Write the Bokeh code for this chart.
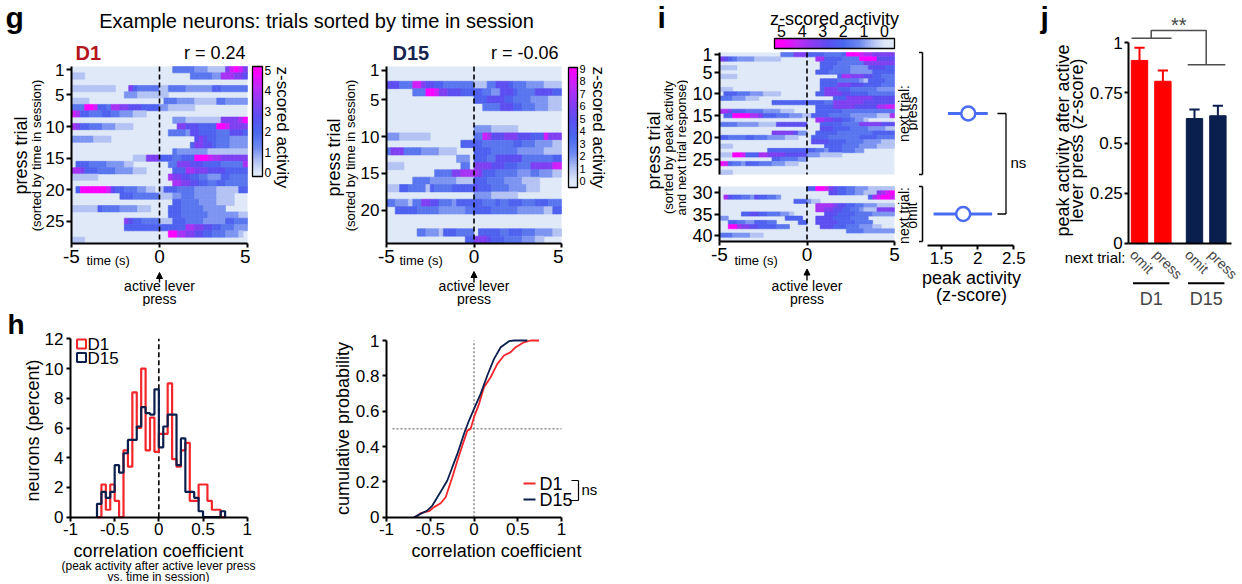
import numpy as np
from bokeh.plotting import figure
from bokeh.layouts import row, column
from bokeh.models import (Range1d, FixedTicker, NumeralTickFormatter, Label, Arrow,
                          NormalHead, ColumnDataSource, LinearColorMapper, LinearAxis)
from bokeh.transform import transform
from bokeh.embed import file_html
from bokeh.resources import INLINE

FONT = "Liberation Sans"

# =========================== DATA ===========================
TIME_START = -5.0
TIME_BIN = 0.25          # heat-map column width (s); 40 columns from -5 to 5 s
N_BINS = 40
# each character = z-scored activity level in ninths of the colour-scale maximum
D1_VMAX = 5
D1_R = "r = 0.24"
D1_ROWS = [
    "00000000000000000000|00033333222111168986",
    "11100000000000000000|00000003333322777665",
    "00000000000000000000|00000000000000000000",
    "11111111110006433333|11333322222244333333",
    "00000000000022211111|11000000000000000000",
    "11110000000000000000|03332222111113322222",
    "33399844377665554444|22111111000000000000",
    "87443334433222111000|00000000000000000000",
    "00000000000000000000|00022211111111666679",
    "76443332221111000000|00006655544449986666",
    "00000000000000000000|00333325544443335554",
    "22222111100000000000|00000000565443332222",
    "00000000000000000000|00000004665543332222",
    "00000000000000000000|00032222222111111111",
    "00000000000000111666|44433444999877666666",
    "04443333222211000000|00336665554444333337",
    "77644433332222111000|00044477666555544444",
    "11111100000000000000|00766554433222443333",
    "00000000000000000000|00077665544334433333",
    "04999999854433322110|14443333222221111144",
    "00000000000444333333|11122333222221111000",
    "00000000000000000000|00044333322221111000",
    "11111143333222211100|00444333332222200000",
    "00000000000000000000|00444333333222222211",
    "00000000000065443333|11144433332222244333",
    "00000000000044444444|44444477665544333222",
    "00000000000000000000|00997766554433322210",
    "11100000000000000000|00000000000000000000",
]
D15_VMAX = 9
D15_R = "r = -0.06"
D15_ROWS = [
    "00000000000000000000|00000000000000000000",
    "00000000000000000000|00000000000000000000",
    "55533388655443333333|11133555433322221111",
    "00000033399866555444|44332255543333555544",
    "00000000000000000000|44455554433332222111",
    "00000000000000000000|00333355544333222111",
    "00000000000000000000|00000000000000000000",
    "00000000000000000000|00000000000000000000",
    "00000000000000000000|22221111110000000000",
    "22211111110000000000|33875556665554448666",
    "00000000000000000444|44333333344333222211",
    "36663333222211110000|44443333332222221111",
    "00000000000000002220|44433555555333333344",
    "11110000000000000330|66665554443336666688",
    "00000000000333366777|76444333332223322211",
    "00000033332222221111|44433332222111100000",
    "11144333314333344444|54443333222211100000",
    "00000000000000000000|22221111110000000000",
    "33222133665533324444|44333433444333444333",
    "00444443333322222233|44443333332222221144",
    "00000000000000000000|00000000000000000000",
    "00000000000000000000|00000000000000000000",
    "00000003322214443333|04444433444333222211",
    "00000000000000000044|66654443333222110000",
]
I_VMAX = 5
I_ROWS_PRESS = [
    "00000000000000333666|44443333499987766666",
    "65432222111111000000|00774444333399995555",
    "00000000000000000000|00044443333336666666",
    "11110000000000000000|00044433332222555544",
    "00000000000000000000|00444333332222244444",
    "11110000000000000000|00000004776665544333",
    "00000000000000000000|00044443333321444433",
    "00000000000000000000|00044446665554444333",
    "11100000000000000000|00046664443333332222",
    "04443332221111000000|00446666554444333333",
    "33322211100000000000|00000044466666655555",
    "00000000000044444444|44443366666665555555",
    "00000000000000000000|00444466666555557788",
    "77644433332222111000|00444444333333333333",
    "04499997764443332221|14444333332222221117",
    "00000000000000000000|00776655443221000000",
    "33332222211115555555|00044444333366666555",
    "00000000000000000000|00055544443333222211",
    "00000000000066666522|00444443333333344444",
    "44333344333222211100|04444333333344443333",
    "00000000000000000000|05555444433332222111",
    "11100000000000000000|00004444333322221111",
    "00000000000444444444|44332444333220000000",
    "11199844477666655555|22211111000000000000",
    "00000000000044333322|00000000000000000000",
    "98433244433322211100|00000000000000000000",
    "00000000000000000000|00000000000000000000",
    "11100000000000000000|00000000000000000000",
]
I_ROWS_OMIT = [
    "00000000000000000000|44998654433222111111",
    "00000000000000000000|00000554433221116789",
    "07544332544332000000|00000000000000478998",
    "00000000000000000444|21100000000000000000",
    "00000000000000000000|00777765544332221111",
    "00000000000000000000|00776655443321116666",
    "00000445544333221000|00005554444333322222",
    "22000000000000044440|00555544443333000000",
    "00443322444330000044|00555554444333300000",
    "00997665544443330000|00055544433322211000",
    "00000000000000000000|00000000033332222222",
    "33322221110000000000|00000000000000000000",
    "00000000000000000000|00000000000000000000",
]

PEAK_GROUPS = ["press", "omit"]
PEAK_MEAN = [1.87, 1.80]
PEAK_LO = [1.59, 1.39]
PEAK_HI = [2.14, 2.20]

J_GROUP = ["D1", "D1", "D15", "D15"]
J_NEXT = ["omit", "press", "omit", "press"]
J_X = [1.0, 2.0, 3.35, 4.35]
J_MEAN = [0.912, 0.808, 0.622, 0.636]
J_SEM = [0.063, 0.054, 0.045, 0.050]

HIST_BIN_W = 0.05
HIST_BIN_LEFT = [-0.70, -0.65, -0.60, -0.55, -0.50, -0.45, -0.40, -0.35, -0.30, -0.25,
                 -0.20, -0.15, -0.10, -0.05, 0.00, 0.05, 0.10, 0.15, 0.20, 0.25,
                 0.30, 0.35, 0.40, 0.45, 0.50, 0.55, 0.60, 0.65, 0.70]
HIST_D1 = [0, 2.2, 0.5, 2.2, 1.1, 0, 4.5, 3.4, 8.4, 6.0,
           10.0, 4.5, 6.7, 4.4, 5.6, 5.6, 9.0, 3.9, 3.4, 4.5,
           5.0, 1.1, 1.1, 2.2, 2.2, 1.1, 0.5, 0.5, 0]
HIST_D15 = [0.9, 1.7, 1.3, 1.7, 3.5, 3.0, 4.3, 5.2, 5.2, 6.1,
            7.4, 7.0, 6.9, 8.6, 4.7, 6.1, 6.9, 6.9, 3.5, 5.3,
            1.7, 1.7, 1.3, 0.4, 0, 0, 0, 0, 0.4]

CUM_D1_X = [-0.667, -0.61, -0.514, -0.457, -0.381, -0.324, -0.286, -0.248, -0.19, -0.133,
            -0.076, -0.038, 0.0, 0.057, 0.114, 0.19, 0.267, 0.343, 0.419, 0.476,
            0.571, 0.648, 0.743]
CUM_D1_Y = [0, 0.023, 0.034, 0.057, 0.079, 0.113, 0.17, 0.226, 0.32, 0.406,
            0.49, 0.5, 0.566, 0.64, 0.736, 0.792, 0.868, 0.915, 0.934, 0.962,
            0.99, 1.0, 1.0]
CUM_D15_X = [-0.686, -0.61, -0.533, -0.476, -0.419, -0.362, -0.305, -0.248, -0.19, -0.114,
             -0.057, 0.0, 0.076, 0.152, 0.229, 0.305, 0.4, 0.457, 0.61]
CUM_D15_Y = [0, 0.019, 0.038, 0.066, 0.113, 0.16, 0.208, 0.283, 0.358, 0.472,
             0.547, 0.613, 0.698, 0.802, 0.896, 0.962, 0.996, 1.0, 1.0]

# =========================== STYLE / LAYOUT ===========================
RED = "#ff0000"
RED_LINE = "#f4262b"
NAVY = "#0b1f4e"
BLUE = "#4a6cf0"
D1_TXT = "#b3161c"
D15_TXT = "#17244f"
ANCHORS = [(0.0, "#dfe9f8"), (0.12, "#b0c0f3"), (0.25, "#6d88f0"), (0.40, "#4a68ef"),
           (0.55, "#5a4ff0"), (0.70, "#8a3cf2"), (0.85, "#c02af6"), (1.0, "#ff00ff")]


def make_palette(n=256):
    ts = np.array([a[0] for a in ANCHORS])
    rgb = np.array([[int(c[i:i + 2], 16) for i in (1, 3, 5)] for _, c in ANCHORS], float)
    out = []
    for t in np.linspace(0, 1, n):
        r, g, b = (np.interp(t, ts, rgb[:, k]) for k in range(3))
        out.append("#%02x%02x%02x" % (int(round(r)), int(round(g)), int(round(b))))
    return out


PAL = make_palette()

# canvas boxes (x, y, w, h) in page pixels; each plot frame fills its whole canvas
BOX = {
    "ghead": (0, 0, 610, 40),
    "d1": (0, 40, 250, 266),
    "cb1": (250, 40, 50, 266),
    "d15": (300, 40, 263, 266),
    "cb2": (563, 40, 47, 266),
    "hist": (0, 306, 300, 276),
    "cum": (300, 306, 310, 276),
    "ilab": (610, 0, 78, 310),
    "itop": (688, 0, 230, 180),
    "ibot": (688, 180, 230, 130),
    "peak": (918, 0, 112, 310),
    "j": (1030, 0, 212, 310),
}
# two (value, pixel) anchors per direction fixing each plot's scale
MAP = {
    "ghead": ((0, 0), (1, 610), (0, 40), (1, 0)),
    "ilab": ((0, 610), (1, 688), (0, 310), (1, 0)),
    "d1": ((-5, 71), (5, 247), (0.5, 66), (28.5, 243)),
    "cb1": ((0, 252), (1, 262), (-0.2, 176), (5.2, 66)),
    "d15": ((-5, 386), (5, 561), (0.5, 66), (24.5, 243)),
    "cb2": ((0, 568), (1, 577), (-0.52, 187), (9.1, 67)),
    "hist": ((-1, 70), (1, 246.7), (0, 516.7), (12, 338.3)),
    "cum": ((-1, 386), (1, 561), (0, 516.7), (1, 340)),
    "itop": ((-5, 719), (5, 894), (0.5, 52), (28.5, 174)),
    "ibot": ((-5, 719), (5, 894), (28.5, 186), (41.5, 241)),
    "peak": ((1.5, 941), (2.5, 1013.3), (0.5, 52), (28.5, 174)),
    "j": ((1, 1139), (2, 1162.4), (0, 242.7), (1, 42.3)),
}
# horizontal colour bar of panel i (value, pixel) anchors and vertical extent in pixels
I_CBAR = ((5.34, 774), (-0.49, 894), 38, 48)


def lin(a, b, p):
    (v0, p0), (v1, p1) = a, b
    return v0 + (p - p0) * (v1 - v0) / (p1 - p0)


def px2x(key, px):
    return lin(MAP[key][0], MAP[key][1], px)


def px2y(key, py):
    return lin(MAP[key][2], MAP[key][3], py)


def y2px(key, v):
    (v0, p0), (v1, p1) = MAP[key][2], MAP[key][3]
    return p0 + (v - v0) * (p1 - p0) / (v1 - v0)


def mkfig(key, xloc=None, yloc=None):
    X0, Y0, W, H = BOX[key]
    p = figure(width=W, height=H,
               x_range=Range1d(px2x(key, X0), px2x(key, X0 + W)),
               y_range=Range1d(px2y(key, Y0 + H), px2y(key, Y0)),
               x_axis_location=xloc, y_axis_location=yloc,
               toolbar_location=None, output_backend="svg", min_border=0,
               min_border_left=0, min_border_right=0, min_border_top=0, min_border_bottom=0,
               background_fill_color="white", border_fill_color="white",
               outline_line_color=None)
    p.xgrid.visible = False
    p.ygrid.visible = False
    return p


def style(ax, ticks, size, loc, bounds, fmt=None, standoff=3, tick_out=5, lw=2.0):
    ax.ticker = FixedTicker(ticks=ticks)
    ax.fixed_location = loc
    ax.bounds = bounds
    ax.major_label_text_font = FONT
    ax.major_label_text_font_size = f"{size}px"
    ax.major_label_text_color = "black"
    ax.axis_line_color = "black"
    ax.axis_line_width = lw
    ax.major_tick_line_color = "black"
    ax.major_tick_line_width = lw
    ax.major_tick_out = tick_out
    ax.major_tick_in = 0
    ax.minor_tick_line_color = None
    ax.major_label_standoff = standoff
    ax.formatter = NumeralTickFormatter(format=fmt or "0")


def lab(p, key, ax, ay, text, size, angle=0.0, align="center", baseline="middle",
        color="black", bold=False):
    X0, Y0, W, H = BOX[key]
    p.add_layout(Label(x=ax - X0, y=Y0 + H - ay, x_units="screen", y_units="screen",
                       text=text, text_font=FONT, text_font_size=f"{size}px",
                       text_align=align, text_baseline=baseline, angle=angle,
                       text_color=color, text_font_style="bold" if bold else "normal"))


def sline(p, key, pts, color="black", width=1.5, head=None):
    X0, Y0, W, H = BOX[key]
    for (x0, y0), (x1, y1) in zip(pts[:-1], pts[1:]):
        p.add_layout(Arrow(x_start=x0 - X0, y_start=Y0 + H - y0, x_end=x1 - X0,
                           y_end=Y0 + H - y1, start_units="screen", end_units="screen",
                           end=head, line_color=color, line_width=width))


def heat_fig(key, rows, first_row, vmax, yticks, ytick_size, xaxis=True):
    n = len(rows)
    mapper = LinearColorMapper(palette=PAL, low=0, high=vmax)
    p = mkfig(key, xloc="below" if xaxis else None, yloc="left")
    t_end = TIME_START + N_BINS * TIME_BIN
    y_lo, y_hi = first_row - 0.5, first_row + n - 0.5
    p.quad(left=[TIME_START], right=[t_end], top=[y_lo], bottom=[y_hi],
           fill_color=PAL[0], line_color=None)
    d = dict(left=[], right=[], top=[], bottom=[], v=[])
    for i, s in enumerate(rows):
        s = s.replace("|", "")
        r = first_row + i
        for k, ch in enumerate(s[:N_BINS]):
            lvl = int(ch)
            if lvl == 0:
                continue
            t0 = TIME_START + k * TIME_BIN
            d["left"].append(t0)
            d["right"].append(t0 + TIME_BIN)
            d["top"].append(r - 0.5)
            d["bottom"].append(r + 0.5)
            d["v"].append(lvl * vmax / 9.0)
    src = ColumnDataSource(d)
    p.quad(left="left", right="right", top="top", bottom="bottom", source=src,
           fill_color=transform("v", mapper), line_color=transform("v", mapper),
           line_width=0.6)
    p.segment(x0=[0], x1=[0], y0=[y_lo], y1=[y_hi], line_color="black",
              line_dash="5 3", line_width=1.6)
    style(p.yaxis[0], yticks, ytick_size, TIME_START, (y_lo, y_hi), standoff=2, tick_out=5)
    if xaxis:
        style(p.xaxis[0], [-5, 0, 5], 19, y_hi, (TIME_START, t_end), standoff=2, tick_out=4)
    return p, mapper


def cbar_fig(key, lo, hi, mapper, ticks, size):
    p = mkfig(key, yloc="right")
    edges = np.linspace(lo, hi, 81)
    src = ColumnDataSource(dict(a=edges[:-1], b=edges[1:], v=(edges[:-1] + edges[1:]) / 2))
    p.quad(left=0, right=1, bottom="a", top="b", source=src,
           fill_color=transform("v", mapper), line_color=transform("v", mapper))
    p.quad(left=[0], right=[1], bottom=[lo], top=[hi], fill_color=None,
           line_color="black", line_width=1.3)
    ax = p.yaxis[0]
    style(ax, ticks, size, 1, (lo, hi), standoff=2, tick_out=0)
    ax.axis_line_color = None
    return p


def lever_labels(p, key, x0, y_tip, y_tail, time_x):
    lab(p, key, time_x, 260, "time (s)", 13, align="left")
    sline(p, key, [(x0, y_tail), (x0, y_tip)], width=1.4,
          head=NormalHead(size=6, fill_color="black", line_color="black", line_width=1))
    lab(p, key, x0, 285, "active lever", 14)
    lab(p, key, x0, 298, "press", 14)


# =========================== PANEL g ===========================
ghead = mkfig("ghead")
lab(ghead, "ghead", 5, 17, "g", 30, align="left", bold=True)
lab(ghead, "ghead", 316, 20, "Example neurons: trials sorted by time in session", 20)

d1, d1_map = heat_fig("d1", D1_ROWS, 1, D1_VMAX, [1, 5, 10, 15, 20, 25], 17)
lab(d1, "d1", 75, 52, "D1", 20, align="left", color=D1_TXT, bold=True)
lab(d1, "d1", 245, 52, D1_R, 18, align="right")
lab(d1, "d1", 20, 155, "press trial", 18, angle=np.pi / 2)
lab(d1, "d1", 36, 155, "(sorted by time in session)", 13, angle=np.pi / 2)
lever_labels(d1, "d1", 159, 272, 282, 86)

cb1 = cbar_fig("cb1", -0.2, 5.2, d1_map, [0, 1, 2, 3, 4, 5], 12)
lab(cb1, "cb1", 282, 66, "z-scored activity", 17, angle=-np.pi / 2, align="left")

d15, d15_map = heat_fig("d15", D15_ROWS, 1, D15_VMAX, [1, 5, 10, 15, 20], 17)
lab(d15, "d15", 392, 52, "D15", 20, align="left", color=D15_TXT, bold=True)
lab(d15, "d15", 558, 52, D15_R, 18, align="right")
lab(d15, "d15", 333, 157, "press trial", 18, angle=np.pi / 2)
lab(d15, "d15", 350, 155, "(sorted by time in session)", 13, angle=np.pi / 2)
lever_labels(d15, "d15", 473.5, 271, 282, 399)

cb2 = cbar_fig("cb2", -0.52, 9.1, d15_map, list(range(10)), 11)
lab(cb2, "cb2", 598, 66, "z-scored activity", 17, angle=-np.pi / 2, align="left")

# =========================== PANEL h ===========================
hist = mkfig("hist", xloc="below", yloc="left")
style(hist.xaxis[0], [-1, -0.5, 0, 0.5, 1], 17, 0, (-1, 1), fmt="0.[0]", standoff=2, tick_out=4)
style(hist.yaxis[0], [0, 2, 4, 6, 8, 10, 12], 17, -1, (0, 12), standoff=3, tick_out=4)
hist.segment(x0=[0], x1=[0], y0=[0], y1=[12], line_color="black", line_dash="5 3", line_width=1.6)
for vals, colr in ((HIST_D1, RED_LINE), (HIST_D15, NAVY)):
    xs = [HIST_BIN_LEFT[0]] + HIST_BIN_LEFT + [HIST_BIN_LEFT[-1] + HIST_BIN_W]
    ys = [0] + vals + [0]
    hist.step(x=xs, y=ys, mode="after", line_color=colr, line_width=2.2)
hist.scatter(x=[px2x("hist", 81)] * 2, y=[px2y("hist", 343.5), px2y("hist", 357)],
             marker="square", size=9, fill_color=None, line_color=[RED_LINE, NAVY], line_width=2)
lab(hist, "hist", 87, 344, "D1", 17, align="left")
lab(hist, "hist", 87, 357.5, "D15", 17, align="left")
lab(hist, "hist", 7, 323.5, "h", 28, align="left", bold=True)
lab(hist, "hist", 32, 430, "neurons (percent)", 18, angle=np.pi / 2)
lab(hist, "hist", 158, 550, "correlation coefficient", 18)
lab(hist, "hist", 158, 565, "(peak activity after active lever press", 12)
lab(hist, "hist", 158, 576, "vs. time in session)", 12)

cum = mkfig("cum", xloc="below", yloc="left")
style(cum.xaxis[0], [-1, -0.5, 0, 0.5, 1], 17, 0, (-1, 1), fmt="0.[0]", standoff=2, tick_out=4)
style(cum.yaxis[0], [0, 0.2, 0.4, 0.6, 0.8, 1], 17, -1, (0, 1), fmt="0.[0]", standoff=3, tick_out=4)
cum.segment(x0=[0, px2x("cum", 392)], x1=[0, 1.0], y0=[0, 0.5], y1=[1, 0.5],
            line_color="#555555", line_dash="2 2", line_width=1)
cum.line(CUM_D1_X, CUM_D1_Y, line_color=RED_LINE, line_width=1.8)
cum.line(CUM_D15_X, CUM_D15_Y, line_color=NAVY, line_width=1.8)
sline(cum, "cum", [(523, 483), (535, 483)], color=RED_LINE, width=2)
sline(cum, "cum", [(523, 499), (535, 499)], color=NAVY, width=2)
sline(cum, "cum", [(571, 480), (578, 480), (578, 500), (569, 500)], width=1.2)
lab(cum, "cum", 539, 483, "D1", 18, align="left")
lab(cum, "cum", 539, 499, "D15", 18, align="left")
lab(cum, "cum", 581, 489, "ns", 15, align="left")
lab(cum, "cum", 342, 428, "cumulative probability", 18, angle=np.pi / 2)
lab(cum, "cum", 496, 550, "correlation coefficient", 18)

# =========================== PANEL i ===========================
ilab = mkfig("ilab")
lab(ilab, "ilab", 657, 16.5, "i", 30, align="left", bold=True)
lab(ilab, "ilab", 653, 150, "press trial", 18, angle=np.pi / 2)
lab(ilab, "ilab", 668, 147, "(sorted by peak activity", 13, angle=np.pi / 2)
lab(ilab, "ilab", 680.5, 147, "and next trial response)", 13, angle=np.pi / 2)

itop, i_map = heat_fig("itop", I_ROWS_PRESS, 1, I_VMAX, [1, 5, 10, 15, 20, 25], 18, xaxis=False)
lab(itop, "itop", 903, 113, "next trial:", 14, angle=np.pi / 2)
lab(itop, "itop", 911, 113, "press", 14, angle=np.pi / 2)

# horizontal colour bar of panel i drawn on its own value scale inside the same canvas
cb_a, cb_b, cb_top_px, cb_bot_px = I_CBAR
X0i, _, Wi, _ = BOX["itop"]
itop.extra_x_ranges = {"cb": Range1d(lin(cb_a, cb_b, X0i), lin(cb_a, cb_b, X0i + Wi))}
cb_lo, cb_hi = min(cb_a[0], cb_b[0]), max(cb_a[0], cb_b[0])
edges = np.linspace(cb_lo, cb_hi, 81)
cb_src = ColumnDataSource(dict(a=edges[:-1], b=edges[1:], v=(edges[:-1] + edges[1:]) / 2))
yt, yb = px2y("itop", cb_top_px), px2y("itop", cb_bot_px)
itop.quad(left="a", right="b", top=yt, bottom=yb, source=cb_src, x_range_name="cb",
          fill_color=transform("v", i_map), line_color=transform("v", i_map))
itop.quad(left=[cb_lo], right=[cb_hi], top=[yt], bottom=[yb], x_range_name="cb",
          fill_color=None, line_color="black", line_width=1.3)
cb_axis = LinearAxis(x_range_name="cb")
style(cb_axis, [0, 1, 2, 3, 4, 5], 16, yt, (cb_lo, cb_hi), standoff=2, tick_out=0)
cb_axis.axis_line_color = None
itop.add_layout(cb_axis, "above")
lab(itop, "itop", 834, 18, "z-scored activity", 18)

n_press, n_omit = len(I_ROWS_PRESS), len(I_ROWS_OMIT)
ibot, _ = heat_fig("ibot", I_ROWS_OMIT, n_press + 1, I_VMAX, [30, 35, 40], 18)
lab(ibot, "ibot", 903, 215, "next trial:", 14, angle=np.pi / 2)
lab(ibot, "ibot", 911, 215, "omit", 14, angle=np.pi / 2)
lever_labels(ibot, "ibot", 806.5, 268.5, 280, 734)

# summary of peak activity per block; each point sits at the middle of its trial block
blocks = [("itop", 0.5, n_press + 0.5), ("ibot", n_press + 0.5, n_press + n_omit + 0.5)]
peak = mkfig("peak", xloc="below")
style(peak.xaxis[0], [1.5, 2, 2.5], 17, px2y("peak", 245), (1.3, 2.5), fmt="0.[0]",
      standoff=2, tick_out=4)
peak_py = []
for key, a, b in blocks:
    pa, pb = y2px(key, a), y2px(key, b)
    sline(peak, "peak", [(918.5, pa), (922, pa), (922, pb), (918.5, pb)], width=1.5)
    peak_py.append((pa + pb) / 2)
peak_y = [px2y("peak", v) for v in peak_py]
sline(peak, "peak", [(997, peak_py[0]), (1005.5, peak_py[0]), (1005.5, peak_py[1]),
                     (997, peak_py[1])], width=1.3)
peak.segment(x0=PEAK_LO, x1=PEAK_HI, y0=peak_y, y1=peak_y, line_color=BLUE, line_width=3)
peak.scatter(x=PEAK_MEAN, y=peak_y, marker="circle", size=14, fill_color="white",
             line_color=BLUE, line_width=2.5)
lab(peak, "peak", 1010, 162, "ns", 15, align="left")
lab(peak, "peak", 971, 277, "peak activity", 18)
lab(peak, "peak", 971, 294, "(z-score)", 18)

# =========================== PANEL j ===========================
jf = mkfig("j", xloc="below", yloc="left")
jx0 = px2x("j", 1128.3)
style(jf.yaxis[0], [0, 0.25, 0.5, 0.75, 1], 17, jx0, (0, 1), fmt="0.[00]", standoff=2, tick_out=4)
style(jf.xaxis[0], [], 1, 0, (jx0, px2x("j", 1231)), standoff=0, tick_out=0)
bar_cols = [RED if g == "D1" else NAVY for g in J_GROUP]
hi_vals = [m + s for m, s in zip(J_MEAN, J_SEM)]
jsrc = ColumnDataSource(dict(x=J_X, top=J_MEAN, hi=hi_vals, c=bar_cols))
jf.vbar(x="x", top="top", width=0.7, source=jsrc, fill_color="c", line_color="c")
jf.segment(x0="x", x1="x", y0="top", y1="hi", source=jsrc, line_color="c", line_width=2)
cap = 0.22
jf.segment(x0=[x - cap for x in J_X], x1=[x + cap for x in J_X], y0=hi_vals, y1=hi_vals,
           line_color=bar_cols, line_width=2)
g1 = (J_X[0] + J_X[1]) / 2
g2 = (J_X[2] + J_X[3]) / 2
SIG_D1_Y, SIG_TOP_Y, SIG_D15_Y = 1.023, 1.061, 0.89
jf.line(x=[J_X[0] - 0.34, J_X[1] + 0.37], y=[SIG_D1_Y, SIG_D1_Y], line_color="#4d4d4d", line_width=1.5)
jf.line(x=[J_X[2] - 0.29, J_X[3] + 0.32], y=[SIG_D15_Y, SIG_D15_Y], line_color="#4d4d4d", line_width=1.5)
jf.line(x=[g1, g1, g2, g2], y=[SIG_D1_Y, SIG_TOP_Y, SIG_TOP_Y, SIG_D15_Y],
        line_color="#4d4d4d", line_width=1.5)
jf.add_layout(Label(x=(g1 + g2) / 2, y=1.09, text="**", text_font=FONT,
                    text_font_size="20px", text_align="center", text_baseline="middle"))
for x, t in zip(J_X, J_NEXT):
    jf.add_layout(Label(x=x - 0.3, y=-0.045, text=t, text_font=FONT, text_font_size="14px",
                        text_align="left", text_baseline="middle", angle=-np.pi / 4))
for gc, name in ((g1, "D1"), (g2, "D15")):
    jf.add_layout(Arrow(x_start=gc - 0.78, y_start=-0.2, x_end=gc + 0.78, y_end=-0.2,
                        end=None, line_color="black", line_width=2))
    jf.add_layout(Label(x=gc, y=-0.277, text=name, text_font=FONT, text_font_size="18px",
                        text_align="center", text_baseline="middle"))
lab(jf, "j", 1125, 257, "next trial:", 15, align="right")
lab(jf, "j", 1040, 16.5, "j", 30, align="left", bold=True)
lab(jf, "j", 1062, 140, "peak activity after active", 18, angle=np.pi / 2)
lab(jf, "j", 1076, 140, "lever press (z-score)", 18, angle=np.pi / 2)

# =========================== LAYOUT ===========================
left_col = column(ghead, row(d1, cb1, d15, cb2), row(hist, cum))
icol = column(itop, ibot)
root = row(left_col, ilab, icol, peak, jf)

open("out.html", "w").write(file_html(root, INLINE, title="figure"))
